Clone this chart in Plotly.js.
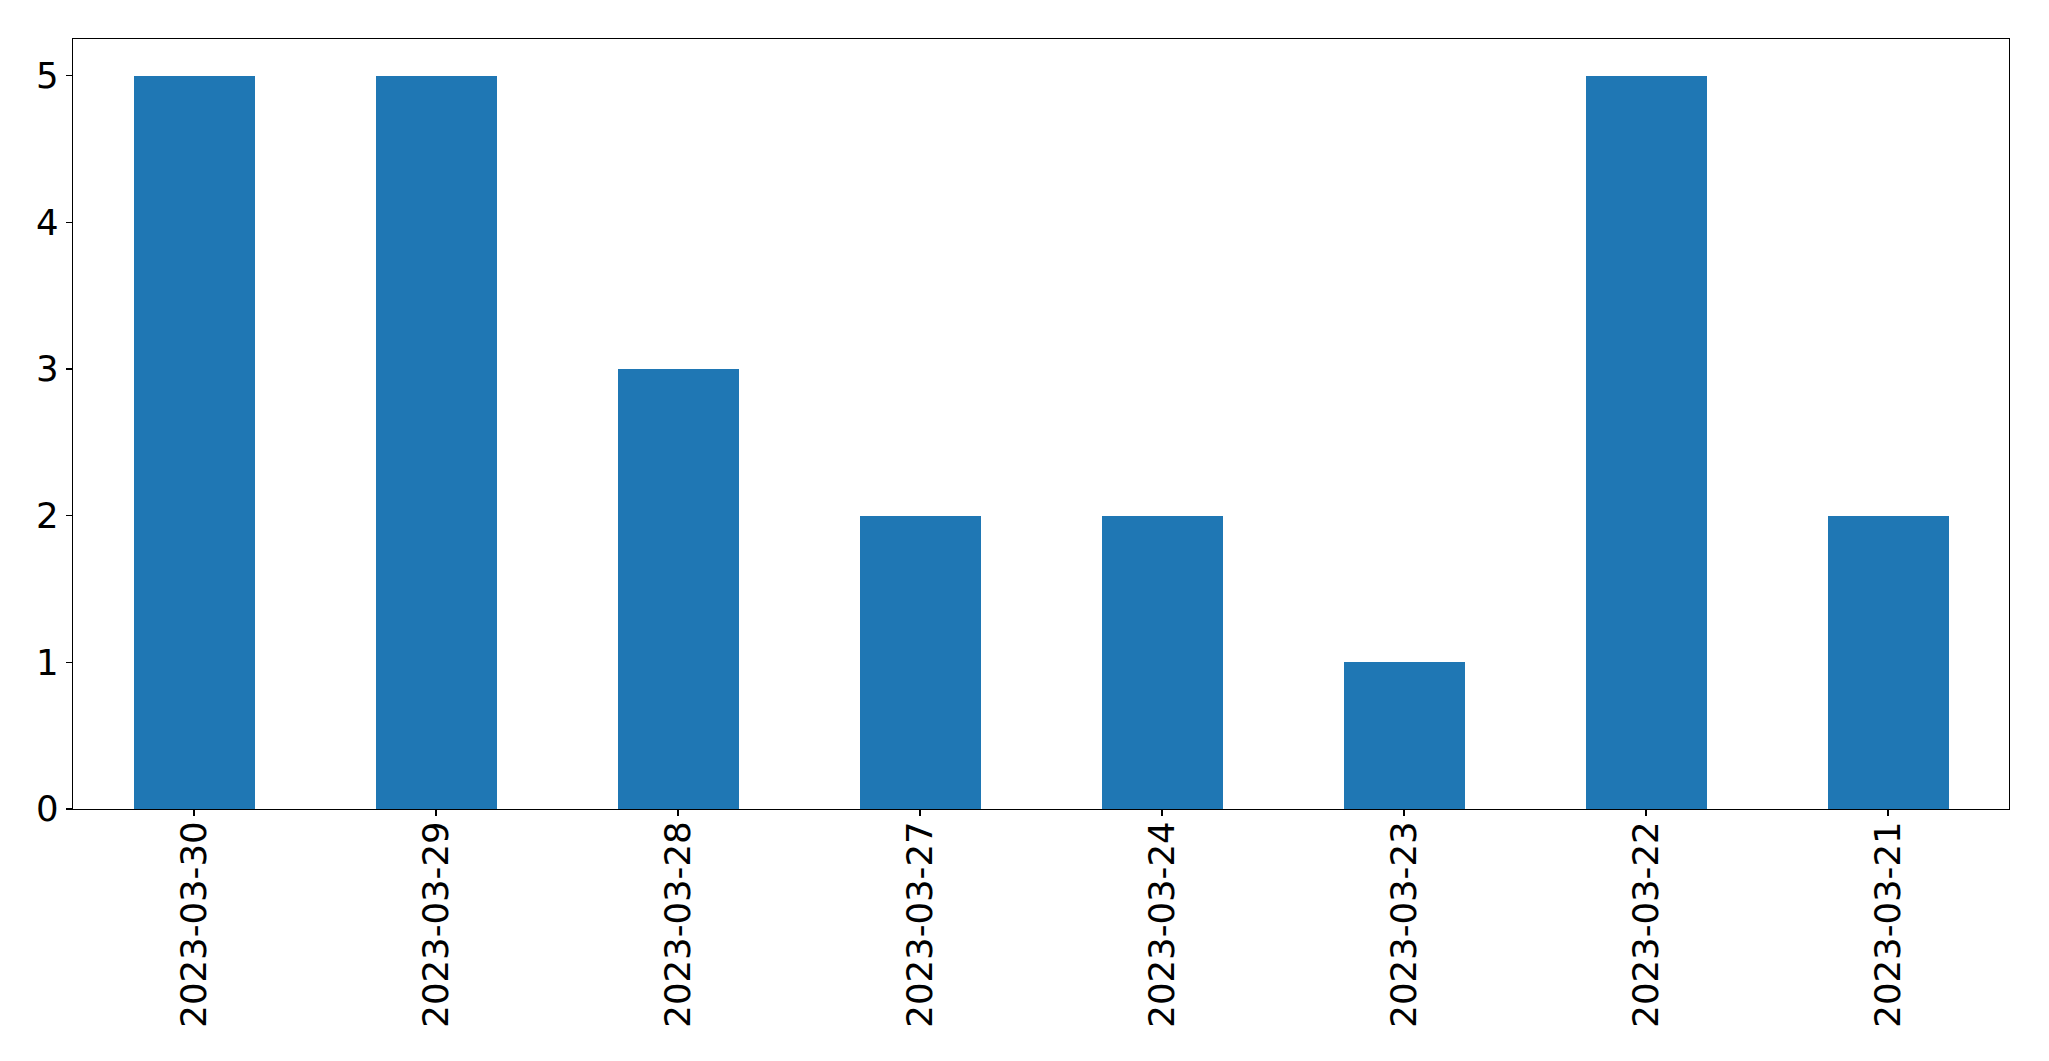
<!DOCTYPE html>
<html>
<head>
<meta charset="utf-8">
<script src="https://cdn.plot.ly/plotly-3.0.1.min.js"></script>
<style>html,body{margin:0;padding:0;background:#fff;}#chart{width:2049px;height:1061px;}</style>
</head>
<body>
<div id="chart"></div>
<script>
const categories = ["2023-03-30","2023-03-29","2023-03-28","2023-03-27","2023-03-24","2023-03-23","2023-03-22","2023-03-21"];
const counts = [5, 5, 3, 2, 2, 1, 5, 2];
const yTicks = [0, 1, 2, 3, 4, 5];

const trace = {
  type: 'bar',
  x: categories,
  y: counts,
  width: 0.5,
  marker: {color: '#1f77b4', line: {width: 0}},
  hoverinfo: 'x+y'
};

const axisFont = {family: 'DejaVu Sans, sans-serif', size: 35.5, color: '#000'};

const layout = {
  width: 2049,
  height: 1061,
  margin: {l: 72.5, r: 40, t: 39, b: 252, pad: 0},
  paper_bgcolor: '#fff',
  plot_bgcolor: '#fff',
  showlegend: false,
  bargap: 0,
  xaxis: {
    type: 'category',
    range: [-0.5, 7.5],
    tickangle: -90,
    ticks: 'outside',
    ticklen: 6,
    tickwidth: 1.2,
    tickcolor: '#000',
    tickfont: axisFont,
    ticklabelstandoff: -9,
    showline: true,
    linecolor: '#000',
    linewidth: 1.2,
    mirror: true,
    showgrid: false,
    zeroline: false,
    automargin: false
  },
  yaxis: {
    range: [0, 5.25],
    tickvals: yTicks,
    ticktext: yTicks.map(String),
    ticks: 'outside',
    ticklen: 6,
    tickwidth: 1.2,
    tickcolor: '#000',
    tickfont: axisFont,
    showline: true,
    linecolor: '#000',
    linewidth: 1.2,
    mirror: true,
    showgrid: false,
    zeroline: false,
    automargin: false
  }
};

Plotly.newPlot('chart', [trace], layout, {displayModeBar: false, staticPlot: true});
</script>
</body>
</html>
